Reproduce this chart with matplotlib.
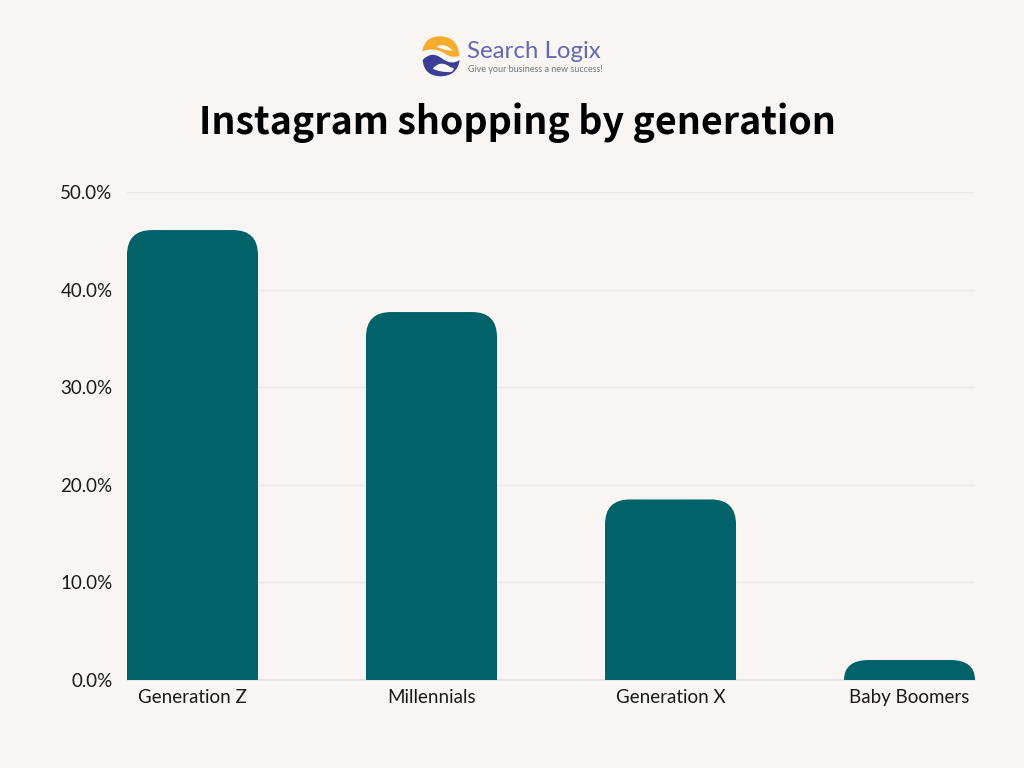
import matplotlib
matplotlib.use("Agg")
import matplotlib.pyplot as plt
from matplotlib.path import Path
from matplotlib.patches import PathPatch

generations = ["Generation Z", "Millennials", "Generation X", "Baby Boomers"]
shares = [46.1, 37.7, 18.5, 2.05]
y_ticks = [0, 10, 20, 30, 40, 50]

BG = "#f8f5f2"
TEAL = "#016369"
GRID = "#ece8e4"
TEXT = "#1a1a1a"

plt.rcParams["font.family"] = ["Lato", "DejaVu Sans"]


def rounded_bar(x, w, h, rx, ry):
    # bar with only the top corners rounded
    ry = min(ry, h)
    l, r = x - w / 2, x + w / 2
    verts = [(l, 0), (l, h - ry), (l, h), (l + rx, h), (r - rx, h), (r, h), (r, h - ry), (r, 0), (l, 0)]
    codes = [Path.MOVETO, Path.LINETO, Path.CURVE3, Path.CURVE3, Path.LINETO,
             Path.CURVE3, Path.CURVE3, Path.LINETO, Path.CLOSEPOLY]
    return Path(verts, codes)


def blob(points):
    # closed smooth shape, points are in 3x crop pixels of the logo
    pts = [(418 + px / 3, 32 + py / 3) for px, py in points]
    verts = [pts[0]]
    codes = [Path.MOVETO]
    for i in range(1, len(pts) - 1, 2):
        verts += [pts[i], pts[i + 1]]
        codes += [Path.CURVE3, Path.CURVE3]
    verts.append(pts[0])
    codes.append(Path.CLOSEPOLY)
    return Path(verts, codes)


fig = plt.figure(figsize=(10.24, 7.68), dpi=100, facecolor=BG)

ax = fig.add_axes([127 / 1024, 1 - 680 / 768, 848 / 1024, 488 / 768])
ax.set_facecolor("none")
ax.set_xlim(-0.274, 3.274)
ax.set_ylim(0, 50)

bar_w = 131 / 239
rad_x = 25 / 239
rad_y = 25 / 9.76
for i, v in enumerate(shares):
    ax.add_patch(PathPatch(rounded_bar(i, bar_w, v, rad_x, rad_y), fc=TEAL, ec="none", zorder=3))

ax.set_yticks(y_ticks)
ax.set_yticklabels([f"{t:.1f}%" for t in y_ticks], fontsize=13.5, color=TEXT)
ax.set_xticks(range(len(generations)))
ax.set_xticklabels(generations, fontsize=13.5, color=TEXT)
ax.tick_params(length=0)
ax.tick_params(axis="y", pad=10.5)
ax.tick_params(axis="x", pad=6.5)
ax.grid(axis="y", color=GRID, lw=1, zorder=0)
ax.set_axisbelow(True)
for s in ax.spines.values():
    s.set_visible(False)
ax.spines["bottom"].set_visible(True)
ax.spines["bottom"].set_color("#e6e1dc")
ax.spines["bottom"].set_linewidth(1.2)

fig.text(517 / 1024, 1 - 134 / 768, "Instagram shopping by generation", ha="center", va="baseline",
         fontsize=27, fontweight="bold", family="Noto Sans CJK SC", color="black")

# logo, pixel coordinates
logo = fig.add_axes([0, 0, 1, 1], zorder=5)
logo.set_xlim(0, 1024)
logo.set_ylim(768, 0)
logo.axis("off")
orange = [(13, 58), (20, 12), (68, 13), (120, 15), (124, 72), (100, 80), (80, 64), (50, 44), (13, 58)]
orange_hole = [(55, 44), (82, 30), (104, 56), (85, 58), (55, 44)]
blue = [(14, 84), (40, 56), (70, 78), (100, 102), (125, 84), (118, 132), (68, 133), (18, 132), (14, 84)]
blue_hole = [(44, 110), (68, 82), (98, 106), (116, 108), (100, 120), (68, 122), (44, 110)]
logo.add_patch(PathPatch(blob(orange), fc="#f5ab2c", ec="none"))
logo.add_patch(PathPatch(blob(orange_hole), fc=BG, ec="none"))
logo.add_patch(PathPatch(blob(blue), fc="#3b3f96", ec="none"))
logo.add_patch(PathPatch(blob(blue_hole), fc=BG, ec="none"))
logo.text(467, 51, "Search Logix", fontsize=17.3, family="Lato", color="#6469b3", va="center", ha="left")
logo.text(468, 69, "Give your business a new success!", fontsize=6.5, family="Lato", color="#6f7a80", va="center", ha="left")

fig.savefig("out.png", dpi=100, facecolor=BG)
